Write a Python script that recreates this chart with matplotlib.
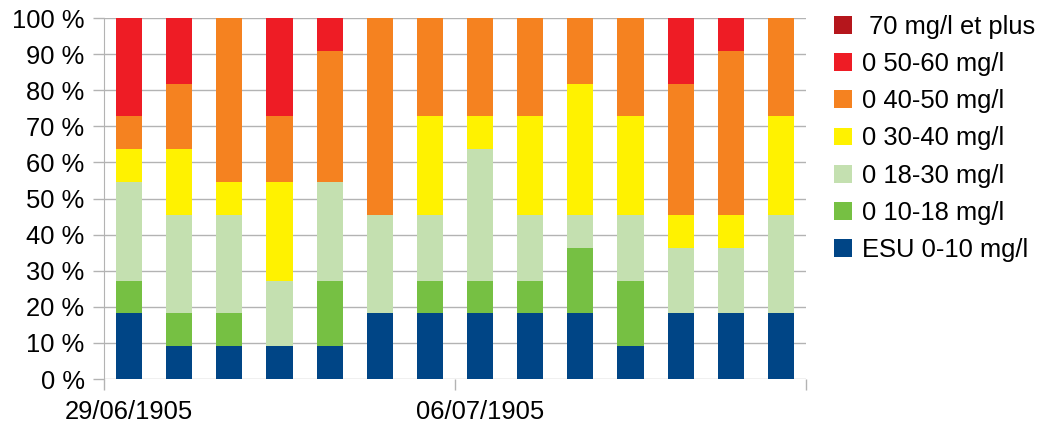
import matplotlib.pyplot as plt
import numpy as np
from matplotlib.ticker import FixedLocator

plt.rcParams['font.family'] = ['Liberation Sans', 'DejaVu Sans']

# 14 jours, 11 stations par jour (nombre de stations par classe)
dates = ["29/06/1905", "30/06/1905", "01/07/1905", "02/07/1905", "03/07/1905",
         "04/07/1905", "05/07/1905", "06/07/1905", "07/07/1905", "08/07/1905",
         "09/07/1905", "10/07/1905", "11/07/1905", "12/07/1905"]

labels = ["ESU 0-10 mg/l", "0 10-18 mg/l", "0 18-30 mg/l", "0 30-40 mg/l",
          "0 40-50 mg/l", "0 50-60 mg/l", " 70 mg/l et plus"]
colors = ["#004586", "#76C043", "#C4E0B0", "#FFF200", "#F58220", "#EE1C25", "#B5161C"]

c_0_10 = [2, 1, 1, 1, 1, 2, 2, 2, 2, 2, 1, 2, 2, 2]
c_10_18 = [1, 1, 1, 0, 2, 0, 1, 1, 1, 2, 2, 0, 0, 0]
c_18_30 = [3, 3, 3, 2, 3, 3, 2, 4, 2, 1, 2, 2, 2, 3]
c_30_40 = [1, 2, 1, 3, 0, 0, 3, 1, 3, 4, 3, 1, 1, 3]
c_40_50 = [1, 2, 5, 2, 4, 6, 3, 3, 3, 2, 3, 4, 5, 3]
c_50_60 = [3, 2, 0, 3, 1, 0, 0, 0, 0, 0, 0, 2, 1, 0]
c_70 = [0, 0, 0, 0, 0, 0, 0, 0, 0, 0, 0, 0, 0, 0]

series = [c_0_10, c_10_18, c_18_30, c_30_40, c_40_50, c_50_60, c_70]
data = np.array(series, dtype=float)
pct = data / data.sum(axis=0) * 100

fig = plt.figure(figsize=(10.42, 4.23), dpi=100)
ax = fig.add_axes([0.0998, 0.104, 0.6737, 0.8534])

x = np.arange(len(dates))
bottom = np.zeros(len(dates))
handles = []
for vals, lab, col in zip(pct, labels, colors):
    h = ax.bar(x, vals, width=0.52, bottom=bottom, color=col, label=lab, zorder=3)
    handles.append(h)
    bottom += vals

ax.set_xlim(-0.5, len(dates) - 0.5)
ax.set_ylim(0, 100)
ax.set_yticks(range(0, 101, 10))
ax.set_yticklabels([f"{v} %" for v in range(0, 101, 10)])
ax.yaxis.grid(True, color="#b3b3b3", linewidth=1, zorder=0)
ax.set_axisbelow(True)

# graduations aux frontières, étiquettes tous les 7 jours
ax.xaxis.set_major_locator(FixedLocator([-0.5, 6.5, 13.5]))
ax.xaxis.set_major_formatter(plt.NullFormatter())
ax.xaxis.set_minor_locator(FixedLocator([0, 7]))
ax.set_xticklabels([dates[0], dates[7]], minor=True)
ax.tick_params(axis="x", which="major", length=8, color="#b3b3b3", width=1)
ax.tick_params(axis="x", which="minor", length=0, pad=15, labelsize=18.4)
ax.tick_params(axis="y", length=8, color="#b3b3b3", width=1, pad=6, labelsize=18.4)

for s in ["top", "right", "bottom"]:
    ax.spines[s].set_visible(False)
ax.spines["left"].set_color("#b3b3b3")

leg = ax.legend(handles[::-1], labels[::-1], loc="upper left",
                bbox_to_anchor=(1.025, 1.038), frameon=False, fontsize=18.4,
                handlelength=0.7, handleheight=0.7, handletextpad=0.4,
                labelspacing=0.52, borderaxespad=0)

plt.savefig("out.png", dpi=100)
